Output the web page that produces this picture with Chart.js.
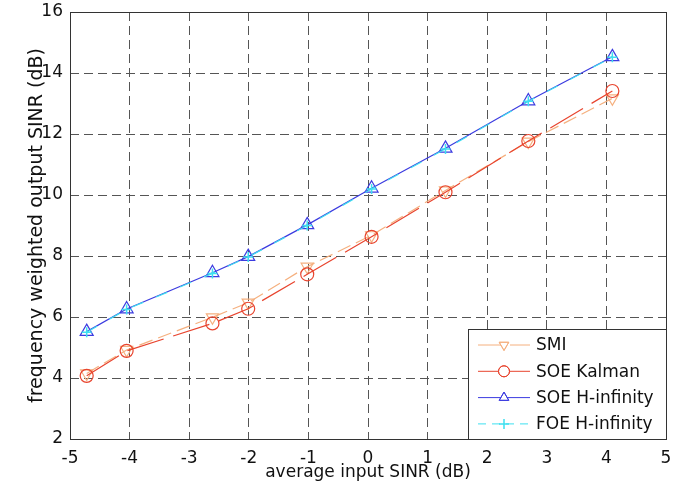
<!DOCTYPE html>
<html>
<head>
<meta charset="utf-8">
<script src="https://cdn.jsdelivr.net/npm/chart.js@4"></script>
<style>
  html, body { margin: 0; padding: 0; background: #fff; }
  #wrap { width: 694px; height: 496px; }
</style>
</head>
<body>
<div id="wrap"><canvas id="sinrChart" width="694" height="496"></canvas></div>
<script>
const inputSinr = [-4.72, -4.05, -2.61, -2.01, -1.02, 0.06, 1.30, 2.69, 4.10];
const smi = [4.15, 4.92, 5.99, 6.47, 7.65, 8.68, 10.15, 11.75, 13.17];
const soeKalman = [4.07, 4.89, 5.79, 6.27, 7.40, 8.63, 10.09, 11.77, 13.41];
const soeHinf = [5.52, 6.26, 7.45, 7.98, 9.02, 10.22, 11.53, 13.08, 14.53];
const foeHinf = [5.50, 6.25, 7.43, 7.97, 9.00, 10.20, 11.51, 13.07, 14.52];

const xTicks = [-5, -4, -3, -2, -1, 0, 1, 2, 3, 4, 5];
const yTicks = [2, 4, 6, 8, 10, 12, 14, 16];

const FONT = "'DejaVu Sans', sans-serif";

function pts(ys) {
    return inputSinr.map((x, i) => ({ x: x, y: ys[i] }));
}

const series = [
    { label: "SMI", data: pts(smi), color: "#f5b07f", dash: [14, 6], style: "triangle", rot: 180, radius: 7, order: 4 },
    { label: "SOE Kalman", data: pts(soeKalman), color: "#e8442e", dash: [38, 10], style: "circle", rot: 0, radius: 6.5, order: 3 },
    { label: "SOE H-infinity", data: pts(soeHinf), color: "#3b3be0", dash: [], style: "triangle", rot: 0, radius: 7.5, order: 2 },
    { label: "FOE H-infinity", data: pts(foeHinf), color: "#3ee0f0", dash: [12, 14], style: "cross", rot: 0, radius: 5, order: 1 }
];

// box around the plot + legend inside lower right
const boxAndLegend = {
    id: "boxAndLegend",
    afterDraw(chart) {
        const ctx = chart.ctx;
        const a = chart.chartArea;
        ctx.save();
        ctx.strokeStyle = "#333";
        ctx.lineWidth = 1;
        ctx.setLineDash([]);
        ctx.strokeRect(a.left + 0.5, a.top + 0.5, a.right - a.left, a.bottom - a.top);

        // legend box
        const lx = 468, ly = 329, lw = a.right - 468, lh = a.bottom - 329;
        ctx.fillStyle = "#fff";
        ctx.fillRect(lx, ly, lw, lh);
        ctx.strokeRect(lx + 0.5, ly + 0.5, lw, lh);

        ctx.font = "17px " + FONT;
        ctx.textBaseline = "middle";
        series.forEach((s, i) => {
            const y = 345 + i * 26.3;
            ctx.strokeStyle = s.color;
            ctx.lineWidth = 1;
            if (s.label === "SMI") ctx.setLineDash([24, 8]);
            else if (s.label === "FOE H-infinity") ctx.setLineDash([8, 6]);
            else ctx.setLineDash([]);
            ctx.beginPath();
            ctx.moveTo(478, y);
            ctx.lineTo(530, y);
            ctx.stroke();
            ctx.setLineDash([]);
            ctx.fillStyle = "#fff";
            if (s.style !== "cross") {
                Chart.helpers.drawPoint(ctx, { pointStyle: s.style, rotation: s.rot, radius: 5.5, borderWidth: 1 }, 504, y);
                ctx.stroke();
            } else {
                ctx.lineWidth = 1.5;
                Chart.helpers.drawPoint(ctx, { pointStyle: "cross", rotation: 0, radius: 5, borderWidth: 1.5 }, 504, y);
            }
            ctx.fillStyle = "#111";
            ctx.fillText(s.label, 536, y + 1);
        });
        ctx.restore();
    }
};

const ctx = document.getElementById("sinrChart").getContext("2d");
new Chart(ctx, {
    type: "scatter",
    data: {
        datasets: series.map(s => ({
            label: s.label,
            data: s.data,
            showLine: true,
            borderColor: s.color,
            backgroundColor: "rgba(0,0,0,0)",
            borderWidth: 1.2,
            borderDash: s.dash,
            pointStyle: s.style,
            rotation: s.rot,
            pointRadius: s.radius,
            pointBorderWidth: s.style === "cross" ? 1.5 : 1.2,
            pointBorderColor: s.color,
            pointBackgroundColor: "rgba(0,0,0,0)",
            tension: 0,
            order: s.order
        }))
    },
    options: {
        responsive: false,
        animation: false,
        devicePixelRatio: 1,
        layout: { padding: { left: 0, right: 28, top: 12, bottom: 0 } },
        plugins: {
            legend: { display: false },
            tooltip: { enabled: false }
        },
        scales: {
            x: {
                type: "linear",
                min: -5,
                max: 5,
                afterBuildTicks: scale => { scale.ticks = xTicks.map(v => ({ value: v })); },
                afterFit: scale => { scale.height = 57; scale.paddingLeft = 0; scale.paddingRight = 0; },
                grid: { color: "#555", lineWidth: 1, drawTicks: false },
                border: { display: false, dash: [9, 5] },
                ticks: {
                    color: "#111",
                    padding: 9,
                    maxRotation: 0,
                    font: { family: FONT, size: 17 }
                },
                title: {
                    display: true,
                    text: "average input SINR (dB)",
                    color: "#111",
                    padding: { top: 0, bottom: 13 },
                    font: { family: FONT, size: 17 }
                }
            },
            y: {
                type: "linear",
                min: 2,
                max: 16,
                afterBuildTicks: scale => { scale.ticks = yTicks.map(v => ({ value: v })); },
                afterFit: scale => { scale.width = 70; scale.paddingTop = 0; scale.paddingBottom = 0; },
                grid: { color: "#555", lineWidth: 1, drawTicks: false },
                border: { display: false, dash: [9, 5] },
                ticks: {
                    color: "#111",
                    padding: 7,
                    font: { family: FONT, size: 17 }
                },
                title: {
                    display: true,
                    text: "frequency weighted output SINR (dB)",
                    color: "#111",
                    padding: { top: 26, bottom: 0 },
                    font: { family: FONT, size: 19 }
                }
            }
        }
    },
    plugins: [boxAndLegend]
});
</script>
</body>
</html>
